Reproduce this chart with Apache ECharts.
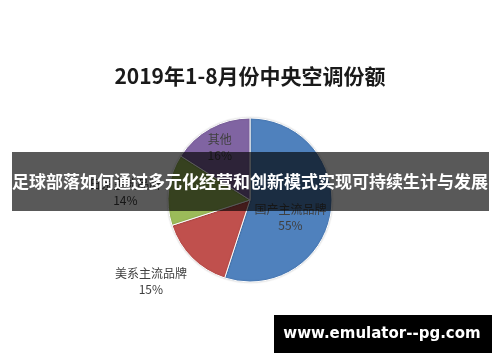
<!DOCTYPE html>
<html>
<head>
<meta charset="utf-8">
<script src="https://cdn.jsdelivr.net/npm/echarts@6/dist/echarts.min.js"></script>
<style>html,body{margin:0;padding:0;background:#fff}#c{width:500px;height:362px}</style>
</head>
<body>
<div id="c"></div>
<script>
var titleText = '2019年1-8月份中央空调份额';
var categories = ['国产主流品牌', '美系主流品牌', '日系主流品牌', '其他'];
var shares = [55, 15, 14, 16];
var sliceColors = ['#4f81bd', '#c0504d', '#9bbb59', '#8064a2'];
var bannerText = '足球部落如何通过多元化经营和创新模式实现可持续生计与发展';
var watermarkText = 'www.emulator--pg.com';

var labelShift = [[-3, 11], [-68, 50], [-81, -2], [-9, -14]];

var chart = echarts.init(document.getElementById('c'), null, {renderer: 'canvas'});
var data = categories.map(function (n, i) {
  return {name: n, value: shares[i], itemStyle: {color: sliceColors[i]}};
});
chart.setOption({
  animation: false,
  backgroundColor: '#ffffff',
  title: {
    text: titleText, left: 'center', top: 61,
    textStyle: {fontFamily: 'Noto Sans CJK SC', fontWeight: 'bold', fontSize: 21, color: '#1a1a1a'}
  },
  series: [{
    type: 'pie',
    center: [250, 200],
    radius: [0, 82],
    startAngle: 90,
    clockwise: true,
    data: data,
    itemStyle: {borderColor: '#ffffff', borderWidth: 1, shadowBlur: 2, shadowColor: 'rgba(0,0,0,0.2)'},
    label: {
      position: 'inside',
      formatter: function (p) { return p.name + '\n' + p.value + '%'; },
      fontFamily: 'Noto Sans CJK SC', fontSize: 12, lineHeight: 16, color: '#404040'
    },
    labelLine: {show: false},
    labelLayout: function (p) {
      var s = labelShift[p.dataIndex];
      return {dx: s[0], dy: s[1]};
    },
    emphasis: {disabled: true}
  }],
  graphic: [
    {type: 'rect', shape: {x: 12, y: 152, width: 477, height: 59}, style: {fill: 'rgba(0,0,0,0.65)'}, z: 100},
    {type: 'text', x: 250, y: 182, style: {text: bannerText, fill: '#ffffff', font: 'bold 17px "Noto Sans CJK SC"', textAlign: 'center', textVerticalAlign: 'middle'}, z: 101},
    {type: 'rect', shape: {x: 274, y: 315, width: 218, height: 38}, style: {fill: '#000000'}, z: 100},
    {type: 'text', x: 382, y: 334, style: {text: watermarkText, fill: '#ffffff', font: 'bold 15px "DejaVu Sans"', textAlign: 'center', textVerticalAlign: 'middle'}, z: 101}
  ]
});
</script>
</body>
</html>
